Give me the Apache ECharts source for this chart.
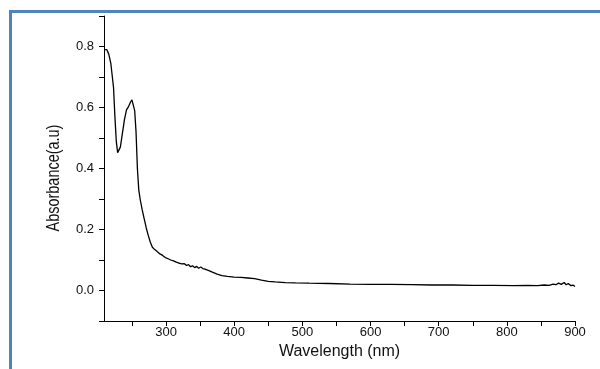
<!DOCTYPE html>
<html>
<head>
<meta charset="utf-8">
<script src="https://cdn.jsdelivr.net/npm/echarts@6/dist/echarts.min.js"></script>
<style>html,body{margin:0;padding:0;background:#fff}#c{width:600px;height:369px}</style>
</head>
<body>
<div id="c"></div>
<script>
const wavelength = [209,211,213,216,219,221,223,225,227,229,231,233,236,239,242,245,248,250,252,254,256,258,260,262,265,268,271,274,277,280,283,287,291,295,299,303,307,311,315,319,323,327,330,333,336,339,342,345,348,351,354,357,362,368,375,382,390,400,410,420,430,440,450,460,475,490,510,540,570,600,630,660,690,720,750,780,810,830,845,855,862,868,872,876,880,884,887,890,894,897,900];
const absorbance = [0.790,0.795,0.790,0.775,0.745,0.705,0.665,0.57,0.49,0.452,0.45,0.47,0.515,0.56,0.592,0.603,0.618,0.625,0.62,0.59,0.52,0.40,0.33,0.30,0.265,0.235,0.205,0.18,0.158,0.142,0.135,0.128,0.12,0.115,0.108,0.104,0.1,0.097,0.093,0.09,0.087,0.088,0.082,0.085,0.078,0.081,0.075,0.079,0.073,0.077,0.072,0.070,0.066,0.06,0.054,0.049,0.046,0.044,0.043,0.041,0.039,0.034,0.030,0.028,0.026,0.025,0.024,0.023,0.021,0.020,0.020,0.019,0.018,0.018,0.017,0.017,0.016,0.017,0.016,0.018,0.017,0.021,0.019,0.024,0.020,0.026,0.019,0.023,0.016,0.018,0.013];
const xTickValues = [250,300,350,400,450,500,550,600,650,700,750,800,850,900];
const xLabelValues = [300,400,500,600,700,800,900];
const xTitle = 'Wavelength (nm)';
const yTitle = 'Absorbance(a.u)';

const chart = echarts.init(document.getElementById('c'), null, {renderer: 'canvas'});
const font = '"Liberation Sans", Arial, sans-serif';
chart.setOption({
  animation: false,
  backgroundColor: '#fff',
  grid: {left: 104, right: 25, top: 16, bottom: 48, containLabel: false},
  graphic: [{
    type: 'rect', silent: true,
    shape: {x: 10.5, y: 11.5, width: 900, height: 600},
    style: {fill: 'none', stroke: '#4f81c3', lineWidth: 3}
  }, {
    type: 'text', silent: true,
    x: 54, y: 178, rotation: Math.PI / 2, scaleX: 0.76,
    style: {text: yTitle, font: '19px "Liberation Sans", Arial, sans-serif', fill: '#111', align: 'center', verticalAlign: 'middle'}
  }],
  xAxis: {
    type: 'value', min: 209, max: 900,
    name: xTitle, nameLocation: 'middle', nameGap: 20,
    nameTextStyle: {fontFamily: font, fontSize: 16, color: '#111'},
    axisLine: {show: true, onZero: false, lineStyle: {color: '#000', width: 1}},
    axisTick: {show: true, inside: false, length: 5, customValues: xTickValues, lineStyle: {color: '#000'}},
    axisLabel: {
      fontFamily: font, fontSize: 13, color: '#111', margin: 5,
      customValues: xLabelValues
    },
    splitLine: {show: false}
  },
  yAxis: {
    type: 'value', min: -0.1, max: 0.9, interval: 0.1,
    axisLine: {show: true, onZero: false, lineStyle: {color: '#000', width: 1}},
    axisTick: {show: true, inside: false, length: 5, lineStyle: {color: '#000'}},
    axisLabel: {
      fontFamily: font, fontSize: 13, color: '#111', margin: 10,
      formatter: v => {
        const k = Math.round(v * 10);
        return (k >= 0 && k % 2 === 0) ? (k / 10).toFixed(1) : '';
      }
    },
    splitLine: {show: false}
  },
  series: [{
    type: 'line',
    data: wavelength.map((w, i) => [w, absorbance[i]]),
    showSymbol: false, smooth: false,
    lineStyle: {color: '#000', width: 1.3}
  }]
});
</script>
</body>
</html>
